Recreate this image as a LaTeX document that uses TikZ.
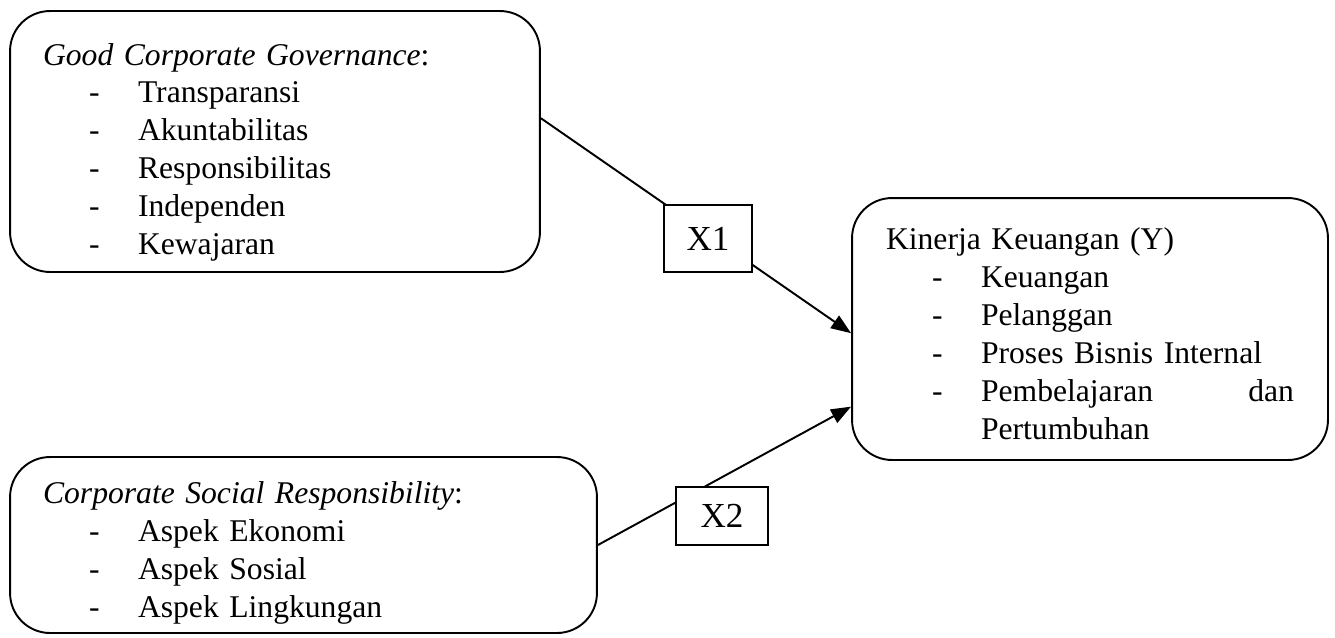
\documentclass[tikz,border=0pt]{standalone}
\usepackage{fontspec}
\setmainfont{Liberation Serif}
\usetikzlibrary{arrows.meta}
\newcommand{\butir}[1]{\hspace*{0.92cm}\makebox[0.98cm][l]{-}#1}

\begin{document}
\begin{tikzpicture}[x=0.02cm,y=-0.02cm,
  kotak/.style={draw,line width=1.1pt,rounded corners=0.8cm,align=left,inner xsep=0.66cm,font=\fontsize{18}{21.6}\selectfont},
  varbox/.style={draw,fill=white,line width=1.1pt,inner sep=0pt,font=\fontsize{20}{24}\selectfont},
  panah/.style={line width=1.1pt,-{Triangle[length=0.4cm,width=0.3cm]}}]
\useasboundingbox (0,0) rectangle (1335,637);
\node[kotak,minimum width=10.6cm,minimum height=5.22cm,text width=9.28cm] (gcg) at (275,141.5)
  {\rule{0pt}{0.87cm}\textit{Good Corporate Governance}:\\
   \butir{Transparansi}\\
   \butir{Akuntabilitas}\\
   \butir{Responsibilitas}\\
   \butir{Independen}\\
   \butir{Kewajaran}};
\node[kotak,minimum width=11.74cm,minimum height=3.52cm,text width=10.42cm] (csr) at (303.5,545)
  {\rule{0pt}{0.74cm}\textit{Corporate Social Responsibility}:\\
   \butir{Aspek Ekonomi}\\
   \butir{Aspek Sosial}\\
   \butir{Aspek Lingkungan}};
\node[kotak,inner xsep=0.68cm,minimum width=9.52cm,minimum height=5.24cm,text width=8.16cm] (kinerja) at (1090,329)
  {\rule{0pt}{0.62cm}Kinerja Keuangan (Y)\\
   \butir{Keuangan}\\
   \butir{Pelanggan}\\
   \butir{Proses Bisnis Internal}\\
   \butir{Pembelajaran}\hfill dan\\
   \hspace*{1.9cm}Pertumbuhan};
\draw[panah] (gcg.5) -- (kinerja.181);
\draw[panah] (csr.east) -- (kinerja.198);
\node[varbox,minimum width=1.76cm,minimum height=1.34cm] (x1) at (708,238.5) {X1};
\node[varbox,minimum width=1.84cm,minimum height=1.16cm] (x2) at (722,516) {X2};
\end{tikzpicture}
\end{document}
